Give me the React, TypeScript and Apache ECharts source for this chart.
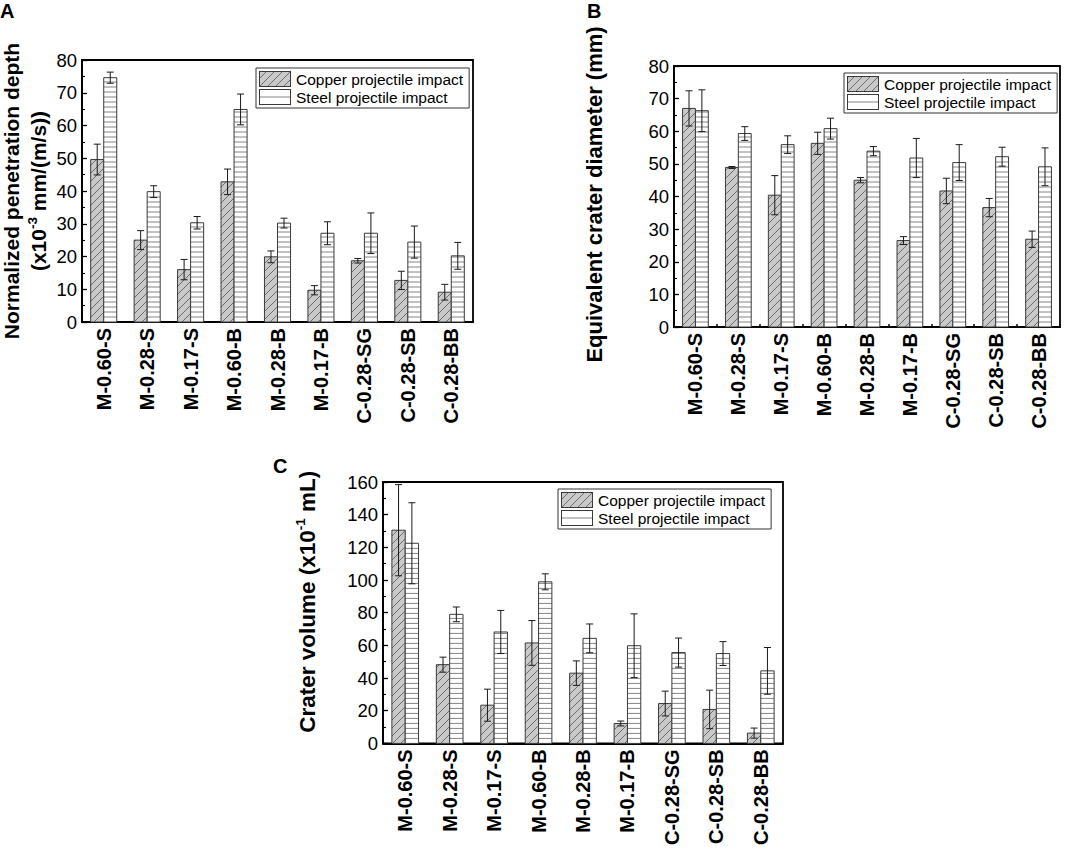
import React, { useEffect, useRef } from 'react';
import * as echarts from 'echarts';

const categories = ['M-0.60-S', 'M-0.28-S', 'M-0.17-S', 'M-0.60-B', 'M-0.28-B', 'M-0.17-B', 'C-0.28-SG', 'C-0.28-SB', 'C-0.28-BB'];

const seriesNames = ['Copper projectile impact', 'Steel projectile impact'];

// Panel A: normalized penetration depth (x10^-3 mm/(m/s))
const depthCopper = [49.6, 25.0, 16.0, 42.8, 19.9, 9.7, 18.7, 12.7, 9.1];
const depthCopperErr = [4.7, 2.9, 3.1, 3.9, 1.8, 1.4, 0.7, 2.8, 2.4];
const depthSteel = [74.6, 39.8, 30.3, 64.9, 30.2, 27.1, 27.1, 24.4, 20.2];
const depthSteelErr = [1.7, 1.8, 1.9, 4.7, 1.5, 3.5, 6.2, 4.9, 4.1];

// Panel B: equivalent crater diameter (mm)
const diamCopper = [67.0, 48.9, 40.4, 56.3, 45.0, 26.5, 41.7, 36.6, 26.9];
const diamCopperErr = [5.4, 0.3, 6.0, 3.4, 0.8, 1.2, 3.9, 2.8, 2.5];
const diamSteel = [66.3, 59.3, 55.9, 60.8, 53.9, 51.8, 50.4, 52.2, 49.1];
const diamSteelErr = [6.4, 2.1, 2.7, 3.2, 1.4, 6.0, 5.5, 2.9, 5.8];

// Panel C: crater volume (x10^-1 mL)
const volCopper = [130.5, 48.2, 23.4, 61.5, 43.0, 12.2, 24.4, 20.8, 6.3];
const volCopperErr = [27.9, 4.6, 9.8, 13.7, 7.5, 1.5, 7.6, 11.8, 3.1];
const volSteel = [122.5, 79.0, 68.2, 98.9, 64.3, 59.8, 55.6, 55.0, 44.4];
const volSteelErr = [24.8, 4.5, 13.2, 4.9, 8.8, 19.5, 8.9, 7.3, 14.3];

const depthAxis = { max: 80, interval: 10 };
const diamAxis = { max: 80, interval: 10 };
const volAxis = { max: 160, interval: 20 };

const FONT = "'Liberation Sans', Arial, Helvetica, sans-serif";
const COPPER_FILL = '#c9c9c9';
const HATCH = '#555555';
const OUTLINE = '#3a3a3a';
const STEEL_LINE = '#777777';

function diagonalSegments(x0: number, x1: number, yT: number, yB: number, p: number) {
  const segs: number[][] = [];
  const cMin = x0 + yT;
  const cMax = x1 + yB;
  for (let k = Math.ceil(cMin / p); k <= Math.floor(cMax / p); k++) {
    const c = k * p;
    const xs = Math.max(x0, c - yB);
    const xe = Math.min(x1, c - yT);
    if (xe - xs > 0.4) segs.push([xs, c - xs, xe, c - xe]);
  }
  return segs;
}

function barRenderer(kind: 'copper' | 'steel') {
  return function (params: any, api: any) {
    const i = api.value(0);
    const v = api.value(1);
    const e = api.value(2);
    const base = api.coord([i, 0]);
    const top = api.coord([i, v]);
    const band = api.size([1, 0])[0];
    const w = band * 0.3;
    const x0 = kind === 'copper' ? base[0] - w : base[0];
    const x1 = x0 + w;
    const yB = base[1];
    const yT = top[1];
    const children: any[] = [];
    children.push({
      type: 'rect',
      shape: { x: x0, y: yT, width: w, height: yB - yT },
      style: { fill: kind === 'copper' ? COPPER_FILL : '#ffffff', stroke: 'none' },
    });
    if (kind === 'copper') {
      diagonalSegments(x0, x1, yT, yB, 8).forEach((s) => {
        children.push({
          type: 'line',
          shape: { x1: s[0], y1: s[1], x2: s[2], y2: s[3] },
          style: { stroke: HATCH, lineWidth: 0.8 },
        });
      });
    } else {
      for (let y = yB - 5; y > yT + 0.8; y -= 5) {
        children.push({
          type: 'line',
          shape: { x1: x0, y1: y, x2: x1, y2: y },
          style: { stroke: STEEL_LINE, lineWidth: 0.9 },
        });
      }
    }
    children.push({
      type: 'rect',
      shape: { x: x0, y: yT, width: w, height: yB - yT },
      style: { fill: 'none', stroke: OUTLINE, lineWidth: 1 },
    });
    const cx = (x0 + x1) / 2;
    const yHi = api.coord([i, v + e])[1];
    const yLo = api.coord([i, v - e])[1];
    const cap = 3.5;
    const es = { stroke: '#1a1a1a', lineWidth: 1 };
    children.push({ type: 'line', shape: { x1: cx, y1: yHi, x2: cx, y2: yLo }, style: es });
    children.push({ type: 'line', shape: { x1: cx - cap, y1: yHi, x2: cx + cap, y2: yHi }, style: es });
    children.push({ type: 'line', shape: { x1: cx - cap, y1: yLo, x2: cx + cap, y2: yLo }, style: es });
    return { type: 'group', children };
  };
}

function copperIcon() {
  let lines = '';
  diagonalSegments(0.5, 31.5, 0.5, 15.5, 8).forEach((s) => {
    lines += `<line x1='${s[0]}' y1='${s[1]}' x2='${s[2]}' y2='${s[3]}' stroke='${HATCH}' stroke-width='0.8'/>`;
  });
  const svg = `<svg xmlns='http://www.w3.org/2000/svg' width='32' height='16' viewBox='0 0 32 16'><rect x='0.5' y='0.5' width='31' height='15' fill='${COPPER_FILL}'/>${lines}<rect x='0.5' y='0.5' width='31' height='15' fill='none' stroke='${OUTLINE}' stroke-width='1'/></svg>`;
  return 'image://data:image/svg+xml;charset=utf-8,' + encodeURIComponent(svg);
}

function steelIcon() {
  const svg = `<svg xmlns='http://www.w3.org/2000/svg' width='32' height='16' viewBox='0 0 32 16'><rect x='0.5' y='0.5' width='31' height='15' fill='#ffffff'/><line x1='0.5' y1='8' x2='31.5' y2='8' stroke='${STEEL_LINE}' stroke-width='0.9'/><rect x='0.5' y='0.5' width='31' height='15' fill='none' stroke='${OUTLINE}' stroke-width='1'/></svg>`;
  return 'image://data:image/svg+xml;charset=utf-8,' + encodeURIComponent(svg);
}

const panels = [
  { grid: { left: 80, top: 60, width: 393, height: 262 }, axis: depthAxis, copper: depthCopper, copperErr: depthCopperErr, steel: depthSteel, steelErr: depthSteelErr,
    name: '{b|Normalized penetration depth}\n{b|(x10}{sup|-3}{b| mm/(m/s))}', nameGap: 30, titleSize: 21, titleLH: 27, namePad: [0, 0, 0, 0], xTicks: false, legend: { left: 256, top: 68 } },
  { grid: { left: 674, top: 66, width: 386, height: 261 }, axis: diamAxis, copper: diamCopper, copperErr: diamCopperErr, steel: diamSteel, steelErr: diamSteelErr,
    name: '{b|Equivalent crater diameter (mm)}', nameGap: 66, titleSize: 22, titleLH: 28, namePad: [0, 0, 0, 4], xTicks: true, legend: { left: 844, top: 73 } },
  { grid: { left: 383, top: 482, width: 400, height: 262 }, axis: volAxis, copper: volCopper, copperErr: volCopperErr, steel: volSteel, steelErr: volSteelErr,
    name: '{b|Crater volume (x10}{sup|-1}{b| mL)}', nameGap: 61, titleSize: 22.5, titleLH: 29, namePad: [0, 0, 0, 22], xTicks: false, legend: { left: 558, top: 489 } },
];

export default function App() {
  const ref = useRef<HTMLDivElement>(null);
  useEffect(() => {
    document.body.style.margin = '0';
    if (!ref.current) return;
    const chart = echarts.init(ref.current, undefined, { renderer: 'svg' });
    const axisLineStyle = { color: '#000', width: 1.8 };
    const cIcon = copperIcon();
    const sIcon = steelIcon();
    const option: any = {
      animation: false,
      backgroundColor: '#ffffff',
      textStyle: { fontFamily: FONT },
      grid: panels.map((p) => ({ ...p.grid, show: true, borderColor: '#000', borderWidth: 1.8, backgroundColor: 'transparent', containLabel: false })),
      xAxis: panels.map((p, gi) => ({
        type: 'category',
        gridIndex: gi,
        data: categories,
        axisLine: { lineStyle: axisLineStyle },
        axisTick: { show: p.xTicks, inside: true, length: 3, lineStyle: { color: '#000', width: 1.5 } },
        axisLabel: { rotate: 90, interval: 0, fontSize: 20, fontWeight: 'bold', color: '#000', fontFamily: FONT, margin: 6 },
        splitLine: { show: false },
      })),
      yAxis: panels.map((p, gi) => ({
        type: 'value',
        gridIndex: gi,
        min: 0,
        max: p.axis.max,
        interval: p.axis.interval,
        axisLine: { show: true, lineStyle: axisLineStyle },
        axisTick: { show: true, inside: true, length: 5, lineStyle: { color: '#000', width: 1.3 } },
        minorTick: { show: true, splitNumber: 2, length: 3, lineStyle: { color: '#000', width: 1.1 } },
        axisLabel: { fontSize: 18.5, color: '#000', margin: 5, fontFamily: FONT },
        splitLine: { show: false },
        minorSplitLine: { show: false },
        name: p.name,
        nameLocation: 'middle',
        nameRotate: 90,
        nameGap: p.nameGap,
        nameTextStyle: {
          padding: p.namePad,
          rich: {
            b: { fontSize: p.titleSize, fontWeight: 'bold', fontFamily: FONT, color: '#000', lineHeight: p.titleLH },
            sup: { fontSize: 13.5, fontWeight: 'bold', fontFamily: FONT, color: '#000', lineHeight: 15, verticalAlign: 'top' },
          },
        },
      })),
      legend: panels.map((p) => ({
        orient: 'vertical',
        left: p.legend.left,
        top: p.legend.top,
        itemWidth: 32,
        itemHeight: 16,
        itemGap: 2,
        padding: [3, 6, 3, 3],
        borderColor: '#333',
        borderWidth: 1,
        borderRadius: 0,
        backgroundColor: '#ffffff',
        selectedMode: false,
        textStyle: { fontSize: 15.5, color: '#000', fontFamily: FONT },
        data: [
          { name: seriesNames[0], icon: cIcon },
          { name: seriesNames[1], icon: sIcon },
        ],
      })),
      graphic: [
        { type: 'text', left: 0, top: 1, style: { text: 'A', fontSize: 20, fontWeight: 'bold', fill: '#000', fontFamily: FONT } },
        { type: 'text', left: 587, top: 1, style: { text: 'B', fontSize: 20, fontWeight: 'bold', fill: '#000', fontFamily: FONT } },
        { type: 'text', left: 273, top: 456, style: { text: 'C', fontSize: 20, fontWeight: 'bold', fill: '#000', fontFamily: FONT } },
      ],
      series: panels.flatMap((p, gi) => [
        {
          type: 'custom',
          name: seriesNames[0],
          xAxisIndex: gi,
          yAxisIndex: gi,
          renderItem: barRenderer('copper'),
          encode: { x: 0, y: 1 },
          clip: false,
          data: categories.map((_, i) => [i, p.copper[i], p.copperErr[i]]),
        },
        {
          type: 'custom',
          name: seriesNames[1],
          xAxisIndex: gi,
          yAxisIndex: gi,
          renderItem: barRenderer('steel'),
          encode: { x: 0, y: 1 },
          clip: false,
          data: categories.map((_, i) => [i, p.steel[i], p.steelErr[i]]),
        },
      ]),
    };
    chart.setOption(option);
    return () => chart.dispose();
  }, []);
  return <div ref={ref} style={{ width: 1079, height: 848 }} />;
}
